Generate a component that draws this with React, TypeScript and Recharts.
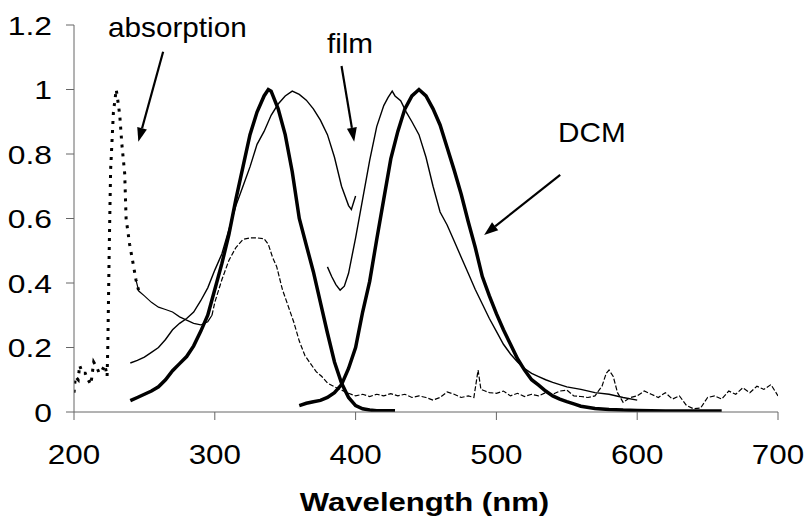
import React from 'react';
import {
  LineChart,
  Line,
  XAxis,
  YAxis,
  ReferenceLine,
  ReferenceDot,
} from 'recharts';

const FONT = 'Liberation Sans, Arial, sans-serif';
const AXIS = '#666666';

// axis ticks
const X_TICKS = [200, 300, 400, 500, 600, 700];
const Y_TICKS = [0, 0.2, 0.4, 0.6, 0.8, 1, 1.2];

// DCM emission, first band (thick)
const dcm1Wl = [240, 245, 250, 255, 260, 265, 270, 275, 280, 285, 290, 295, 300, 305, 310, 315, 320, 325, 330, 335, 338, 340, 345, 350, 355, 360, 365, 370, 375, 380, 385, 390, 395, 400, 405, 410, 415, 420, 428];
const dcm1Val = [0.035, 0.045, 0.055, 0.065, 0.078, 0.1, 0.128, 0.15, 0.172, 0.205, 0.25, 0.3, 0.38, 0.46, 0.55, 0.66, 0.76, 0.86, 0.93, 0.98, 1.0, 0.995, 0.94, 0.86, 0.745, 0.6, 0.517, 0.435, 0.34, 0.245, 0.155, 0.09, 0.045, 0.02, 0.01, 0.006, 0.004, 0.004, 0.004];

// DCM emission, second band (thick)
const dcm2Wl = [360, 365, 370, 375, 380, 385, 390, 395, 400, 405, 410, 415, 420, 425, 430, 435, 440, 445, 450, 455, 460, 465, 470, 475, 480, 485, 490, 495, 500, 505, 510, 515, 520, 525, 530, 535, 540, 545, 550, 555, 560, 570, 580, 590, 600, 620, 640, 660];
const dcm2Val = [0.02, 0.027, 0.032, 0.036, 0.045, 0.06, 0.085, 0.135, 0.2, 0.31, 0.405, 0.535, 0.66, 0.785, 0.87, 0.94, 0.98, 1.0, 0.98, 0.94, 0.89, 0.82, 0.75, 0.675, 0.59, 0.51, 0.42, 0.36, 0.305, 0.255, 0.21, 0.165, 0.13, 0.1, 0.083, 0.065, 0.05, 0.04, 0.032, 0.025, 0.018, 0.011, 0.008, 0.006, 0.005, 0.003, 0.003, 0.003];

// film emission, first band (thin)
const film1Wl = [240, 245, 250, 255, 260, 265, 270, 275, 280, 285, 290, 295, 300, 305, 310, 315, 320, 325, 330, 335, 340, 345, 350, 355, 360, 365, 370, 375, 380, 385, 390, 395, 397, 400];
const film1Val = [0.152, 0.16, 0.17, 0.185, 0.2, 0.225, 0.255, 0.275, 0.29, 0.31, 0.345, 0.385, 0.44, 0.49, 0.565, 0.64, 0.7, 0.76, 0.83, 0.87, 0.92, 0.955, 0.98, 0.995, 0.985, 0.967, 0.94, 0.905, 0.86, 0.79, 0.7, 0.64, 0.628, 0.67];

// film emission, second band (thin)
const film2Wl = [380, 383, 386, 389, 392, 395, 400, 405, 410, 415, 420, 423, 426, 428, 432, 436, 440, 445, 450, 455, 460, 465, 470, 475, 480, 485, 490, 495, 500, 505, 510, 515, 520, 525, 530, 535, 540, 545, 550, 560, 570, 580, 590, 600];
const film2Val = [0.45, 0.42, 0.395, 0.378, 0.39, 0.43, 0.54, 0.66, 0.78, 0.885, 0.95, 0.975, 0.995, 0.98, 0.965, 0.93, 0.9, 0.86, 0.79, 0.7, 0.62, 0.58, 0.53, 0.48, 0.43, 0.38, 0.335, 0.29, 0.25, 0.21, 0.18, 0.155, 0.135, 0.12, 0.11, 0.1, 0.092, 0.085, 0.078, 0.07, 0.06, 0.055, 0.045, 0.037];

// absorption, sharp band (thick dots)
const absPeakWl = [200, 201, 203, 204, 206, 208, 210, 212, 214, 216, 218, 220, 222, 223.5, 224, 225, 226, 228, 230, 231, 232.5, 234, 236, 237, 239.5, 242, 244, 246];
const absPeakVal = [0.06, 0.11, 0.1, 0.145, 0.12, 0.12, 0.1, 0.085, 0.155, 0.14, 0.12, 0.13, 0.146, 0.11, 0.2, 0.5, 0.75, 0.93, 1.0, 0.97, 0.92, 0.83, 0.74, 0.6, 0.52, 0.46, 0.41, 0.375];

// absorption tail, near-solid stretch
const absMidWl = [244, 246, 250, 255, 260, 265, 270, 275, 280, 285, 290, 295, 298];
const absMidVal = [0.41, 0.375, 0.36, 0.34, 0.325, 0.318, 0.31, 0.295, 0.285, 0.275, 0.27, 0.28, 0.3];

// absorption tail, dashed stretch
const absTailWl = [298, 300, 305, 310, 315, 320, 325, 330, 335, 338, 341, 344, 348, 352, 356, 360, 364, 368, 372, 376, 380, 385, 390, 395, 400, 405, 410, 415, 420, 425, 430, 435, 440, 445, 450, 455, 460, 465, 470, 475, 480, 484, 487, 489, 492, 495, 500, 505, 510, 515, 520, 525, 530, 535, 540, 545, 550, 555, 560, 565, 570, 575, 578, 580, 583, 586, 590, 595, 600, 605, 610, 615, 620, 625, 630, 635, 640, 645, 650, 655, 660, 665, 670, 675, 680, 685, 690, 695, 700];
const absTailVal = [0.3, 0.34, 0.41, 0.47, 0.51, 0.535, 0.54, 0.54, 0.537, 0.52, 0.48, 0.45, 0.38, 0.33, 0.28, 0.22, 0.175, 0.15, 0.125, 0.11, 0.09, 0.078, 0.068, 0.058, 0.05, 0.055, 0.048, 0.055, 0.05, 0.057, 0.05, 0.055, 0.045, 0.05, 0.045, 0.037, 0.045, 0.062, 0.055, 0.045, 0.05, 0.045, 0.13, 0.07, 0.065, 0.06, 0.058, 0.065, 0.05, 0.058, 0.048, 0.055, 0.05, 0.06, 0.055, 0.065, 0.068, 0.05, 0.048, 0.045, 0.05, 0.08, 0.12, 0.13, 0.11, 0.06, 0.03, 0.045, 0.05, 0.065, 0.055, 0.045, 0.06, 0.04, 0.05, 0.02, 0.01, 0.012, 0.045, 0.05, 0.04, 0.065, 0.055, 0.075, 0.06, 0.08, 0.07, 0.085, 0.05];

// annotation labels and arrows, in data units
const labels = [
  { text: 'absorption', x: 224.2, y: 1.163 },
  { text: 'film', x: 379.6, y: 1.112 },
  { text: 'DCM', x: 543.8, y: 0.836 },
];
const arrows = [
  { from: { x: 263.3, y: 1.117 }, to: { x: 245.7, y: 0.838 } },
  { from: { x: 390.0, y: 1.073 }, to: { x: 399.0, y: 0.838 } },
  { from: { x: 545.3, y: 0.735 }, to: { x: 491.3, y: 0.549 } },
];

const zip = (xs: number[], ys: number[]) => xs.map((x, i) => ({ x, y: ys[i] }));

const YTick = ({ x, y, payload }: any) => (
  <g transform={`translate(${x},${y})`}>
    <text transform="scale(1.2,1)" textAnchor="end" dy="0.36em" fontSize={26.5} fontFamily={FONT} fill="#000">
      {String(payload.value)}
    </text>
  </g>
);

const XTick = ({ x, y, payload }: any) => (
  <g transform={`translate(${x},${y})`}>
    <text transform="scale(1.1,1)" textAnchor="middle" y={42} fontSize={28.5} fontFamily={FONT} fill="#000">
      {String(payload.value)}
    </text>
  </g>
);

const XTitle = ({ viewBox }: any) => (
  <g transform={`translate(${viewBox.x + viewBox.width / 2 - 1.5},${viewBox.y + 99})`}>
    <text transform="scale(1.22,1)" textAnchor="middle" fontSize={25.5} fontWeight="bold" fontFamily={FONT} fill="#000">
      Wavelength (nm)
    </text>
  </g>
);

const Arrow = ({ x1, y1, x2, y2 }: any) => {
  const ang = Math.atan2(y2 - y1, x2 - x1);
  const L = 14;
  const W = 5;
  const bx = x2 - L * Math.cos(ang);
  const by = y2 - L * Math.sin(ang);
  const px = -Math.sin(ang) * W;
  const py = Math.cos(ang) * W;
  return (
    <g>
      <line x1={x1} y1={y1} x2={bx} y2={by} stroke="#000" strokeWidth={2.2} />
      <polygon points={`${x2},${y2} ${bx + px},${by + py} ${bx - px},${by - py}`} fill="#000" />
    </g>
  );
};

const labelShape = (text: string) => (p: any) => (
  <g transform={`translate(${p.cx},${p.cy})`}>
    <text transform="scale(1.1,1)" fontSize={27} fontFamily={FONT} fill="#000">
      {text}
    </text>
  </g>
);

export default function App() {
  return (
    <div style={{ position: 'absolute', left: 0, top: 0, background: '#fff' }}>
      <LineChart width={807} height={521} margin={{ top: 25, right: 29, bottom: 0, left: 14 }}>
        <XAxis
          dataKey="x"
          type="number"
          domain={[200, 700]}
          ticks={X_TICKS}
          allowDataOverflow
          height={109}
          stroke={AXIS}
          tickSize={8}
          tickMargin={2}
          tick={<XTick />}
          label={{ content: (props: any) => <XTitle {...props} /> }}
        />
        <YAxis
          type="number"
          domain={[0, 1.2]}
          ticks={Y_TICKS}
          allowDataOverflow
          width={60}
          stroke={AXIS}
          tickSize={8}
          tickMargin={14}
          tick={<YTick />}
        />
        <Line data={zip(absPeakWl, absPeakVal)} dataKey="y" type="linear" stroke="#000" strokeWidth={3} strokeDasharray="3 6" dot={false} isAnimationActive={false} />
        <Line data={zip(absMidWl, absMidVal)} dataKey="y" type="linear" stroke="#000" strokeWidth={1.2} dot={false} isAnimationActive={false} />
        <Line data={zip(absTailWl, absTailVal)} dataKey="y" type="linear" stroke="#000" strokeWidth={1.2} strokeDasharray="5 2" dot={false} isAnimationActive={false} />
        <Line data={zip(film1Wl, film1Val)} dataKey="y" type="linear" stroke="#000" strokeWidth={1.4} dot={false} isAnimationActive={false} />
        <Line data={zip(film2Wl, film2Val)} dataKey="y" type="linear" stroke="#000" strokeWidth={1.4} dot={false} isAnimationActive={false} />
        <Line data={zip(dcm1Wl, dcm1Val)} dataKey="y" type="linear" stroke="#000" strokeWidth={3.5} dot={false} isAnimationActive={false} />
        <Line data={zip(dcm2Wl, dcm2Val)} dataKey="y" type="linear" stroke="#000" strokeWidth={3.5} dot={false} isAnimationActive={false} />
        {arrows.map((a, i) => (
          <ReferenceLine key={`arrow-${i}`} segment={[a.from, a.to]} shape={<Arrow />} ifOverflow="visible" />
        ))}
        {labels.map((l) => (
          <ReferenceDot key={l.text} x={l.x} y={l.y} r={0} shape={labelShape(l.text)} ifOverflow="visible" />
        ))}
      </LineChart>
    </div>
  );
}
